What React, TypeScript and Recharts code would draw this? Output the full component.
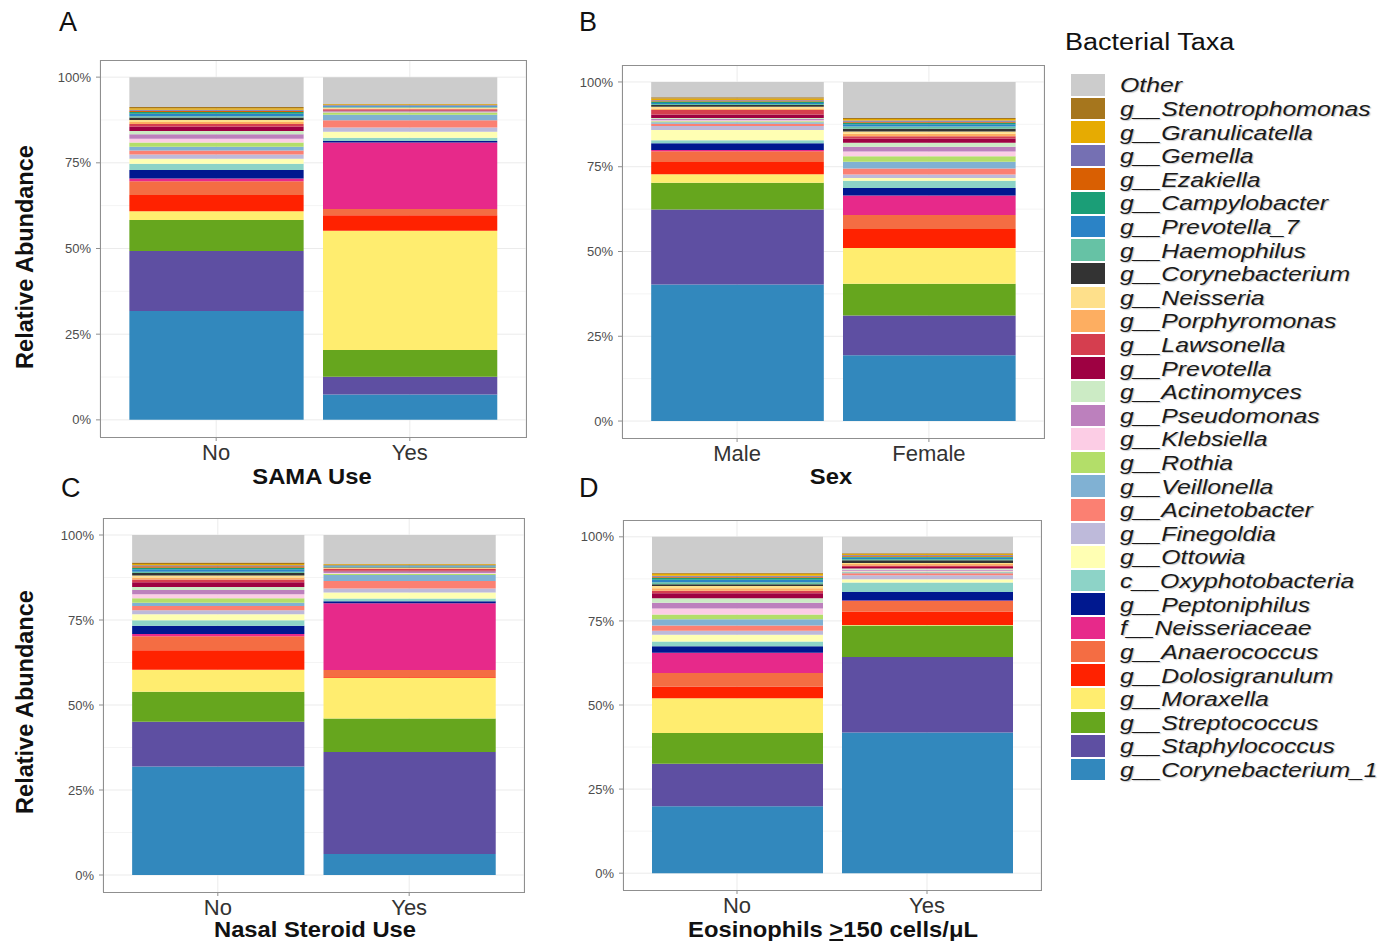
import { Bar, BarChart, CartesianGrid, XAxis, YAxis } from "recharts"

// stacking order, bottom to top
const taxa = [
  "g__Corynebacterium_1", "g__Staphylococcus", "g__Streptococcus", "g__Moraxella",
  "g__Dolosigranulum", "g__Anaerococcus", "f__Neisseriaceae", "g__Peptoniphilus",
  "c__Oxyphotobacteria", "g__Ottowia", "g__Finegoldia", "g__Acinetobacter",
  "g__Veillonella", "g__Rothia", "g__Klebsiella", "g__Pseudomonas", "g__Actinomyces",
  "g__Prevotella", "g__Lawsonella", "g__Porphyromonas", "g__Neisseria",
  "g__Corynebacterium", "g__Haemophilus", "g__Prevotella_7", "g__Campylobacter",
  "g__Ezakiella", "g__Gemella", "g__Granulicatella", "g__Stenotrophomonas", "Other",
]

const colors = [
  "#3288bd", "#5e4fa2", "#66a61e", "#ffed6f", "#ff2200", "#f46d43", "#e7298a", "#00188f",
  "#8dd3c7", "#ffffb3", "#bebada", "#fb8072", "#80b1d3", "#b3de69", "#fccde5", "#bc80bd",
  "#ccebc5", "#9e0142", "#d53e4f", "#fdae61", "#fee08b", "#333333", "#66c2a5", "#2b83c6",
  "#1b9e77", "#d95f02", "#7570b3", "#e6ab02", "#a6761d", "#cccccc",
]

const samaNo = [0.318, 0.175, 0.09, 0.026, 0.047, 0.04, 0.008, 0.025, 0.018, 0.015, 0.012, 0.012, 0.011, 0.012, 0.011, 0.013, 0.01, 0.013, 0.007, 0.006, 0.006, 0.007, 0.004, 0.007, 0.005, 0.004, 0.003, 0.004, 0.004, 0.087]
const samaYes = [0.074, 0.052, 0.078, 0.348, 0.045, 0.018, 0.194, 0.005, 0.009, 0.0175, 0.0125, 0.021, 0.0166, 0.006, 0.001, 0.002, 0.001, 0.002, 0.004, 0.002, 0.002, 0.001, 0.002, 0.002, 0.001, 0.001, 0.001, 0.002, 0.001, 0.078]

const sexMale = [0.403, 0.221, 0.079, 0.025, 0.036, 0.032, 0.003, 0.02, 0.009, 0.03, 0.012, 0.007, 0.004, 0.003, 0.003, 0.004, 0.003, 0.01, 0.013, 0.005, 0.005, 0.005, 0.003, 0.003, 0.004, 0.003, 0.002, 0.004, 0.004, 0.045]
const sexFemale = [0.194, 0.117, 0.094, 0.105, 0.056, 0.042, 0.057, 0.022, 0.022, 0.008, 0.01, 0.018, 0.02, 0.016, 0.014, 0.014, 0.012, 0.012, 0.007, 0.007, 0.007, 0.008, 0.007, 0.006, 0.005, 0.003, 0.003, 0.005, 0.003, 0.106]

const steroidNo = [0.319, 0.132, 0.088, 0.065, 0.057, 0.041, 0.007, 0.024, 0.016, 0.018, 0.012, 0.012, 0.01, 0.013, 0.012, 0.012, 0.009, 0.014, 0.008, 0.006, 0.006, 0.007, 0.004, 0.007, 0.005, 0.004, 0.003, 0.004, 0.004, 0.081]
const steroidYes = [0.062, 0.3, 0.098, 0.12, 0.002, 0.021, 0.196, 0.006, 0.008, 0.018, 0.012, 0.022, 0.017, 0.004, 0.002, 0.003, 0.002, 0.002, 0.005, 0.002, 0.002, 0.001, 0.002, 0.002, 0.001, 0.001, 0.001, 0.002, 0.001, 0.085]

const eosNo = [0.199, 0.126, 0.092, 0.103, 0.035, 0.04, 0.06, 0.02, 0.014, 0.02, 0.012, 0.015, 0.019, 0.014, 0.018, 0.017, 0.013, 0.015, 0.008, 0.007, 0.007, 0.005, 0.006, 0.007, 0.006, 0.003, 0.003, 0.006, 0.003, 0.107]
const eosYes = [0.418, 0.225, 0.093, 0.002, 0.04, 0.031, 0.002, 0.025, 0.028, 0.01, 0.012, 0.006, 0.003, 0.002, 0.002, 0.003, 0.004, 0.004, 0.005, 0.004, 0.003, 0.008, 0.004, 0.004, 0.003, 0.003, 0.002, 0.003, 0.002, 0.049]

const yTicks = [0, 0.25, 0.5, 0.75, 1]
const yMinor = [0.125, 0.375, 0.625, 0.875]

const FONT = "'Liberation Sans', Arial, Helvetica, sans-serif"
const BORDER = "#8f8f8f"
const YW = 50
const XH = 34
const M = 2

function makeRow(cat: string, vals: number[]) {
  const row: Record<string, string | number> = { cat }
  taxa.forEach((t, i) => (row[t] = vals[i]))
  return row
}

function Panel({ left, top, width, height, cats, a, b }: any) {
  const data = [makeRow(cats[0], a), makeRow(cats[1], b)]
  const pad = width / 22
  const barSize = (width * 0.9) / 2.2
  return (
    <>
      <div style={{ position: "absolute", left: left - YW, top: top - M }}>
        <BarChart
          width={YW + width + M}
          height={M + height + XH}
          data={data}
          margin={{ top: M, right: M, bottom: 0, left: 0 }}
        >
          <CartesianGrid horizontalValues={yMinor} vertical={false} stroke="#f4f4f4" />
          <CartesianGrid horizontalValues={yTicks} stroke="#ebebeb" />
          <XAxis
            dataKey="cat"
            height={XH}
            interval={0}
            padding={{ left: pad, right: pad }}
            tick={{ fontSize: 22, fill: "#333333", fontFamily: FONT }}
            tickSize={4}
            tickMargin={3}
            tickLine={{ stroke: BORDER }}
            axisLine={false}
          />
          <YAxis
            type="number"
            domain={[-0.05, 1.05]}
            allowDataOverflow
            ticks={yTicks}
            width={YW}
            tickFormatter={(v: number) => `${Math.round(v * 100)}%`}
            tick={{ fontSize: 13, fill: "#4d4d4d", fontFamily: FONT }}
            tickSize={4}
            tickMargin={5}
            tickLine={{ stroke: BORDER }}
            axisLine={false}
          />
          {taxa.map((t, i) => (
            <Bar key={t} dataKey={t} stackId="s" fill={colors[i]} barSize={barSize} isAnimationActive={false} />
          ))}
        </BarChart>
      </div>
      <div
        style={{
          position: "absolute",
          left,
          top,
          width: width + 1,
          height: height + 1,
          boxSizing: "border-box",
          border: `1px solid ${BORDER}`,
          pointerEvents: "none",
        }}
      />
    </>
  )
}

const letterStyle = { position: "absolute" as const, fontSize: 27, fontFamily: FONT, color: "#111", lineHeight: "27px" }
const titleStyle = {
  position: "absolute" as const,
  fontSize: 22,
  fontWeight: 700,
  fontFamily: FONT,
  color: "#111",
  transform: "translate(-50%, -50%) scaleX(1.08)",
  whiteSpace: "nowrap" as const,
}
const yTitleStyle = { ...titleStyle, fontSize: 23.5, transform: "translate(-50%, -50%) rotate(-90deg)" }

export default function App() {
  const legend = taxa.map((t, i) => ({ t, c: colors[i] })).reverse()
  return (
    <div style={{ position: "absolute", left: 0, top: 0, width: 1384, height: 941, background: "#fff", fontFamily: FONT }}>
      <Panel left={100} top={60} width={426} height={377} cats={["No", "Yes"]} a={samaNo} b={samaYes} />
      <Panel left={622} top={65} width={422} height={373} cats={["Male", "Female"]} a={sexMale} b={sexFemale} />
      <Panel left={103} top={518} width={421} height={374} cats={["No", "Yes"]} a={steroidNo} b={steroidYes} />
      <Panel left={623} top={520} width={418} height={370} cats={["No", "Yes"]} a={eosNo} b={eosYes} />

      <div style={{ ...letterStyle, left: 59, top: 9 }}>A</div>
      <div style={{ ...letterStyle, left: 579, top: 9 }}>B</div>
      <div style={{ ...letterStyle, left: 61, top: 475 }}>C</div>
      <div style={{ ...letterStyle, left: 579, top: 475 }}>D</div>

      <div style={{ ...titleStyle, left: 312, top: 477 }}>SAMA Use</div>
      <div style={{ ...titleStyle, left: 831, top: 477 }}>Sex</div>
      <div style={{ ...titleStyle, left: 315, top: 930 }}>Nasal Steroid Use</div>
      <div style={{ ...titleStyle, left: 833, top: 930 }}>
        Eosinophils <span style={{ textDecoration: "underline" }}>&gt;</span>150 cells/μL
      </div>
      <div style={{ ...yTitleStyle, left: 25, top: 257 }}>Relative Abundance</div>
      <div style={{ ...yTitleStyle, left: 25, top: 702 }}>Relative Abundance</div>

      <div
        style={{
          position: "absolute",
          left: 1065,
          top: 27,
          fontSize: 23.5,
          color: "#111",
          lineHeight: "30px",
          transform: "scaleX(1.15)",
          transformOrigin: "left center",
          whiteSpace: "nowrap",
        }}
      >
        Bacterial Taxa
      </div>
      <div style={{ position: "absolute", left: 1071, top: 73 }}>
        {legend.map(({ t, c }) => (
          <div key={t} style={{ display: "flex", alignItems: "center", height: 23.62 }}>
            <div style={{ width: 34, height: 21.5, background: c, flex: "none" }} />
            <div
              style={{
                marginLeft: 15,
                fontSize: 21,
                fontStyle: "italic",
                color: "#1a1a1a",
                whiteSpace: "nowrap",
                lineHeight: "23px",
                transform: "scaleX(1.18)",
                transformOrigin: "left center",
                textShadow: "1px 1px 1px rgba(0,0,0,0.22)",
              }}
            >
              {t}
            </div>
          </div>
        ))}
      </div>
    </div>
  )
}
